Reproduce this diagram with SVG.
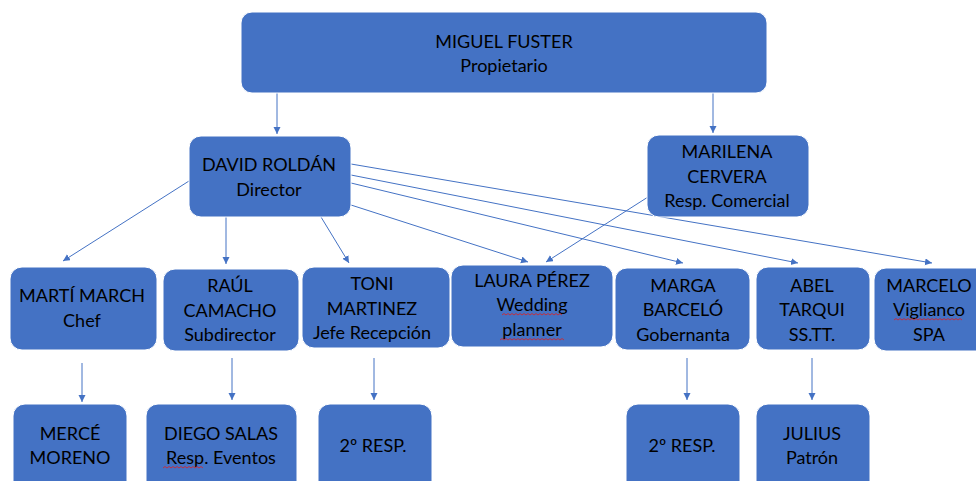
<svg xmlns="http://www.w3.org/2000/svg" width="976" height="481" viewBox="0 0 976 481">
<style>
.box{fill:#4472C4;stroke:#ffffff;stroke-width:1}
.t{font-family:Lato,"Liberation Sans",sans-serif;font-size:18px;fill:#000;text-anchor:middle}
.c{stroke:#4472C4;stroke-width:1;fill:none}
.sq{stroke:#e02020;stroke-width:0.8;fill:none}
</style>
<defs>
<marker id="ah" markerWidth="8" markerHeight="8" refX="7" refY="3.5" orient="auto" markerUnits="userSpaceOnUse">
<path d="M0,0 L7,3.5 L0,7 Z" fill="#4472C4"/>
</marker>
</defs>
<g id="connectors">
<line class="c" x1="277" y1="93" x2="277" y2="134" marker-end="url(#ah)"/>
<line class="c" x1="713" y1="93" x2="713" y2="133" marker-end="url(#ah)"/>
<line class="c" x1="189" y1="181" x2="63" y2="261" marker-end="url(#ah)"/>
<line class="c" x1="226" y1="217" x2="226" y2="264" marker-end="url(#ah)"/>
<line class="c" x1="321" y1="217" x2="349" y2="263" marker-end="url(#ah)"/>
<line class="c" x1="351" y1="205" x2="528" y2="262" marker-end="url(#ah)"/>
<line class="c" x1="351" y1="183" x2="683" y2="263" marker-end="url(#ah)"/>
<line class="c" x1="351" y1="175" x2="798" y2="263" marker-end="url(#ah)"/>
<line class="c" x1="351" y1="164" x2="932" y2="263" marker-end="url(#ah)"/>
<line class="c" x1="648" y1="197" x2="546" y2="262" marker-end="url(#ah)"/>
<line class="c" x1="82" y1="363" x2="82" y2="402" marker-end="url(#ah)"/>
<line class="c" x1="232" y1="358" x2="232" y2="400" marker-end="url(#ah)"/>
<line class="c" x1="374" y1="358" x2="374" y2="400" marker-end="url(#ah)"/>
<line class="c" x1="687" y1="358" x2="687" y2="400" marker-end="url(#ah)"/>
<line class="c" x1="812" y1="358" x2="812" y2="400" marker-end="url(#ah)"/>
</g>
<g id="miguel">
<rect class="box" x="241" y="12" width="526" height="81" rx="11"/>
<text class="t" x="504" y="48">MIGUEL FUSTER</text>
<text class="t" x="504" y="72">Propietario</text>
</g>
<g id="david">
<rect class="box" x="189" y="136" width="162" height="81" rx="12"/>
<text class="t" x="269" y="171">DAVID ROLDÁN</text>
<text class="t" x="269" y="196">Director</text>
</g>
<g id="marilena">
<rect class="box" x="647" y="135" width="162" height="82" rx="12"/>
<text class="t" x="727" y="158">MARILENA</text>
<text class="t" x="727" y="183">CERVERA</text>
<text class="t" x="727" y="207">Resp. Comercial</text>
</g>
<g id="marti">
<rect class="box" x="10" y="267" width="147" height="83" rx="12"/>
<text class="t" x="82" y="302">MARTÍ MARCH</text>
<text class="t" x="82" y="327">Chef</text>
</g>
<g id="raul">
<rect class="box" x="163" y="269" width="136" height="82" rx="12"/>
<text class="t" x="230" y="292">RAÚL</text>
<text class="t" x="230" y="317">CAMACHO</text>
<text class="t" x="230" y="341">Subdirector</text>
</g>
<g id="toni">
<rect class="box" x="302" y="267" width="148" height="81" rx="12"/>
<text class="t" x="372" y="290">TONI</text>
<text class="t" x="372" y="315">MARTINEZ</text>
<text class="t" x="372" y="339">Jefe Recepción</text>
</g>
<g id="laura">
<rect class="box" x="451" y="265" width="162" height="82" rx="12"/>
<text class="t" x="532" y="287">LAURA PÉREZ</text>
<text class="t" x="532" y="311">Wedding</text>
<text class="t" x="532" y="336">planner</text>
<path class="sq" d="M502,315 l2,-1.5 l2,1.5 l2,-1.5 l2,1.5 l2,-1.5 l2,1.5 l2,-1.5 l2,1.5 l2,-1.5 l2,1.5 l2,-1.5 l2,1.5 l2,-1.5 l2,1.5 l2,-1.5 l2,1.5 l2,-1.5 l2,1.5 l2,-1.5 l2,1.5 l2,-1.5 l2,1.5 l2,-1.5 l2,1.5 l2,-1.5 l2,1.5 l2,-1.5 l2,1.5 l2,-1.5 l2,1.5"/>
<path class="sq" d="M500,340 l2,-1.5 l2,1.5 l2,-1.5 l2,1.5 l2,-1.5 l2,1.5 l2,-1.5 l2,1.5 l2,-1.5 l2,1.5 l2,-1.5 l2,1.5 l2,-1.5 l2,1.5 l2,-1.5 l2,1.5 l2,-1.5 l2,1.5 l2,-1.5 l2,1.5 l2,-1.5 l2,1.5 l2,-1.5 l2,1.5 l2,-1.5 l2,1.5 l2,-1.5 l2,1.5 l2,-1.5 l2,1.5 l2,-1.5 l2,1.5"/>
</g>
<g id="marga">
<rect class="box" x="615" y="268" width="135" height="82" rx="12"/>
<text class="t" x="683" y="292">MARGA</text>
<text class="t" x="683" y="316">BARCELÓ</text>
<text class="t" x="683" y="341">Gobernanta</text>
</g>
<g id="abel">
<rect class="box" x="756" y="267" width="114" height="83" rx="12"/>
<text class="t" x="812" y="292">ABEL</text>
<text class="t" x="812" y="316">TARQUI</text>
<text class="t" x="812" y="341">SS.TT.</text>
</g>
<g id="marcelo">
<rect class="box" x="874" y="268" width="120" height="83" rx="12"/>
<text class="t" x="929" y="292">MARCELO</text>
<text class="t" x="929" y="316">Viglianco</text>
<text class="t" x="929" y="341">SPA</text>
<path class="sq" d="M894,320 l2,-1.5 l2,1.5 l2,-1.5 l2,1.5 l2,-1.5 l2,1.5 l2,-1.5 l2,1.5 l2,-1.5 l2,1.5 l2,-1.5 l2,1.5 l2,-1.5 l2,1.5 l2,-1.5 l2,1.5 l2,-1.5 l2,1.5 l2,-1.5 l2,1.5 l2,-1.5 l2,1.5 l2,-1.5 l2,1.5 l2,-1.5 l2,1.5 l2,-1.5 l2,1.5 l2,-1.5 l2,1.5 l2,-1.5 l2,1.5 l2,-1.5 l2,1.5"/>
</g>
<g id="merce">
<rect class="box" x="13" y="404" width="114" height="90" rx="12"/>
<text class="t" x="70" y="440">MERCÉ</text>
<text class="t" x="70" y="464">MORENO</text>
</g>
<g id="diego">
<rect class="box" x="146" y="404" width="151" height="90" rx="12"/>
<text class="t" x="221" y="440">DIEGO SALAS</text>
<text class="t" x="221" y="464">Resp. Eventos</text>
<path class="sq" d="M163,468 l2,-1.5 l2,1.5 l2,-1.5 l2,1.5 l2,-1.5 l2,1.5 l2,-1.5 l2,1.5 l2,-1.5 l2,1.5 l2,-1.5 l2,1.5 l2,-1.5 l2,1.5 l2,-1.5 l2,1.5 l2,-1.5 l2,1.5 l2,-1.5 l2,1.5"/>
</g>
<g id="resp2a">
<rect class="box" x="318" y="404" width="114" height="90" rx="12"/>
<text class="t" x="373" y="452">2º  RESP.</text>
</g>
<g id="resp2b">
<rect class="box" x="626" y="404" width="114" height="90" rx="12"/>
<text class="t" x="682" y="452">2º  RESP.</text>
</g>
<g id="julius">
<rect class="box" x="756" y="404" width="114" height="90" rx="12"/>
<text class="t" x="812" y="440">JULIUS</text>
<text class="t" x="812" y="464">Patrón</text>
</g>
</svg>
